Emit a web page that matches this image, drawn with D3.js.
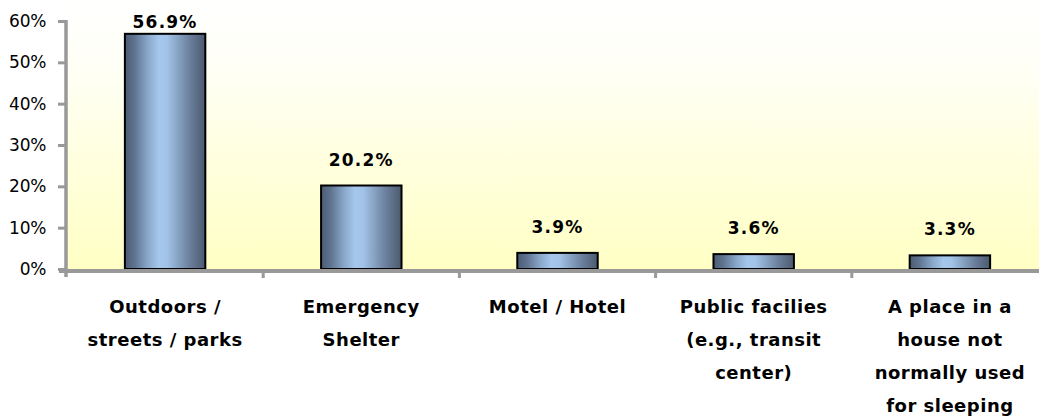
<!DOCTYPE html>
<html>
<head>
<meta charset="utf-8">
<script src="https://cdn.jsdelivr.net/npm/d3@7/dist/d3.min.js"></script>
<style>
  html, body { margin: 0; padding: 0; background: #fff; }
  svg { display: block; }
</style>
</head>
<body>
<svg id="chart" width="1039" height="417"></svg>
<script>
const categories = [
  ["Outdoors /", "streets / parks"],
  ["Emergency", "Shelter"],
  ["Motel / Hotel"],
  ["Public facilies", "(e.g., transit", "center)"],
  ["A place in a", "house not", "normally used", "for sleeping"],
];
const values = [56.9, 20.2, 3.9, 3.6, 3.3];
const yTicks = [0, 10, 20, 30, 40, 50, 60];

const width = 1039;
const height = 417;
const plotLeft = 67;
const plotRight = 1048;
const plotTop = 21;
const plotBottom = 269;

const svg = d3.select("#chart");
const defs = svg.append("defs");

// Plot background: white at top fading to pale yellow
const bg = defs.append("linearGradient")
  .attr("id", "bg-grad")
  .attr("x1", 0).attr("y1", 0).attr("x2", 0).attr("y2", 1);
bg.append("stop").attr("offset", "0%").attr("stop-color", "#ffffff");
bg.append("stop").attr("offset", "25%").attr("stop-color", "#fffff6");
bg.append("stop").attr("offset", "100%").attr("stop-color", "#ffffc4");

// Cylinder-ish bar shading
const barGrad = defs.append("linearGradient")
  .attr("id", "bar-grad")
  .attr("x1", 0).attr("y1", 0).attr("x2", 1).attr("y2", 0);
[
  ["0%", "#4c5b72"],
  ["12%", "#5f7390"],
  ["28%", "#88a6c8"],
  ["42%", "#a5c7ec"],
  ["52%", "#a3c4e8"],
  ["65%", "#89a5c6"],
  ["80%", "#6c819e"],
  ["100%", "#4b596e"],
].forEach(([o, c]) => barGrad.append("stop").attr("offset", o).attr("stop-color", c));

const x = d3.scaleBand()
  .domain(d3.range(categories.length))
  .range([plotLeft, plotRight])
  .paddingInner(0)
  .paddingOuter(0);

const y = d3.scaleLinear()
  .domain([0, 60])
  .range([plotBottom, plotTop]);

svg.append("rect")
  .attr("x", plotLeft)
  .attr("y", 0)
  .attr("width", width - plotLeft)
  .attr("height", plotBottom)
  .attr("fill", "url(#bg-grad)");

// Bars
const barW = x.bandwidth() * 0.41;
svg.append("g")
  .selectAll("rect")
  .data(values)
  .join("rect")
  .attr("x", (d, i) => x(i) + (x.bandwidth() - barW) / 2)
  .attr("y", (d) => y(d))
  .attr("width", barW)
  .attr("height", (d) => y(0) - y(d))
  .attr("fill", "url(#bar-grad)")
  .attr("stroke", "#000")
  .attr("stroke-width", 2);

// Value labels
svg.append("g")
  .selectAll("text")
  .data(values)
  .join("text")
  .attr("x", (d, i) => x(i) + x.bandwidth() / 2)
  .attr("y", (d) => Math.max(y(d) - 20, 28))
  .attr("text-anchor", "middle")
  .attr("font-family", "DejaVu Sans, sans-serif")
  .attr("font-weight", "bold")
  .attr("font-size", 17)
  .attr("letter-spacing", 1.2)
  .attr("fill", "#000")
  .text((d) => d.toFixed(1) + "%");

// Y axis
const yAxis = svg.append("g")
  .attr("transform", `translate(${plotLeft - 1},0)`)
  .call(d3.axisLeft(y).tickValues(yTicks).tickSize(8).tickFormat((d) => d + "%"));
yAxis.select(".domain").remove();
yAxis.selectAll(".tick line").attr("stroke", "#999").attr("stroke-width", 3);
yAxis.selectAll(".tick text")
  .attr("x", -20)
  .attr("fill", "#000")
  .attr("font-family", "DejaVu Sans, sans-serif")
  .attr("font-size", 17)
  .attr("letter-spacing", -0.3);
yAxis.append("line")
  .attr("x1", 0).attr("x2", 0)
  .attr("y1", plotTop - 1).attr("y2", plotBottom + 8)
  .attr("stroke", "#999")
  .attr("stroke-width", 3.5);

// X axis
const xAxis = svg.append("g").attr("transform", `translate(0,${plotBottom + 2})`);
xAxis.append("line")
  .attr("x1", plotLeft - 8).attr("x2", plotRight)
  .attr("y1", 0).attr("y2", 0)
  .attr("stroke", "#999")
  .attr("stroke-width", 4);
xAxis.selectAll("line.tick")
  .data(d3.range(1, categories.length))
  .join("line")
  .attr("class", "tick")
  .attr("x1", (i) => x(i)).attr("x2", (i) => x(i))
  .attr("y1", 0).attr("y2", 7)
  .attr("stroke", "#999")
  .attr("stroke-width", 3);

// Category labels
const catLabels = svg.append("g")
  .selectAll("text")
  .data(categories)
  .join("text")
  .attr("x", (d, i) => x(i) + x.bandwidth() / 2)
  .attr("y", 313)
  .attr("text-anchor", "middle")
  .attr("font-family", "DejaVu Sans, sans-serif")
  .attr("font-weight", "bold")
  .attr("font-size", 18)
  .attr("letter-spacing", 0.5)
  .attr("fill", "#000");
catLabels.each(function (lines, i) {
  d3.select(this)
    .selectAll("tspan")
    .data(lines)
    .join("tspan")
    .attr("x", x(i) + x.bandwidth() / 2)
    .attr("dy", (l, j) => (j === 0 ? 0 : 33))
    .text((l) => l);
});
</script>
</body>
</html>
